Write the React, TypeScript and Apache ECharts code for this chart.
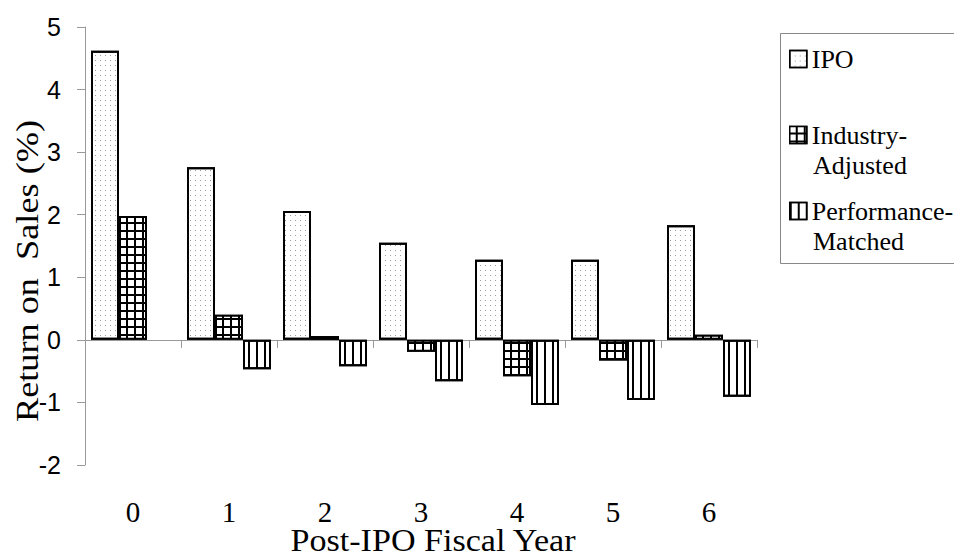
import React, { useEffect, useRef } from "react";
import * as echarts from "echarts";

const categories = ["0", "1", "2", "3", "4", "5", "6"];
const seriesNames = ["IPO", "Industry-Adjusted", "Performance-Matched"];
const ipoValues = [4.62, 2.76, 2.06, 1.55, 1.28, 1.28, 1.83];
const industryAdjustedValues = [1.98, 0.4, 0.06, -0.19, -0.58, -0.33, 0.08];
const performanceMatchedValues = [null, -0.47, -0.42, -0.66, -1.04, -0.96, -0.91];
const legendFirstLines = ["IPO", "Industry-", "Performance-"];
const legendSecondLines = ["", "Adjusted", "Matched"];
const yMin = -2;
const yMax = 5;
const yInterval = 1;
const xAxisName = "Post-IPO Fiscal Year";
const yAxisName = "Return on  Sales (%)";

const SERIF = "Liberation Serif";
const SANS = "Liberation Sans";

const dotDecal = {
  symbol: "rect",
  symbolSize: 1,
  color: "#9a9a9a",
  dashArrayX: [1, 4],
  dashArrayY: [1, 4],
  rotation: 0,
};
const gridDecal = {
  symbol: "rect",
  symbolSize: 1,
  color: "#fff",
  dashArrayX: [5.5, 1.5],
  dashArrayY: [5.5, 1.5],
  rotation: 0,
};
const stripeDecal = {
  symbol: "rect",
  symbolSize: 1,
  color: "#000",
  dashArrayX: [1.5, 6],
  dashArrayY: [1, 0],
  rotation: 0,
};

export default function App() {
  const ref = useRef<HTMLDivElement>(null);
  useEffect(() => {
    if (!ref.current) return;
    const chart = echarts.init(ref.current, null, { renderer: "svg" });
    const values = [ipoValues, industryAdjustedValues, performanceMatchedValues];
    const decals = [dotDecal, gridDecal, stripeDecal];
    const fills = ["#fff", "#000", "#fff"];
    const option: any = {
      animation: false,
      backgroundColor: "#fff",
      grid: { left: 85, right: 197, top: 27, bottom: 93, containLabel: false },
      legend: {
        orient: "vertical",
        left: 789,
        top: 46,
        padding: 0,
        itemWidth: 17,
        itemHeight: 17,
        itemGap: 50,
        icon: "rect",
        data: seriesNames,
        formatter: (name: string) => legendFirstLines[seriesNames.indexOf(name)],
        textStyle: { fontFamily: SERIF, fontSize: 26, color: "#000" },
        itemStyle: { borderWidth: 1.5, borderColor: "#000" },
      },
      xAxis: [
        {
          type: "category",
          data: categories,
          position: "bottom",
          axisLine: { show: true, onZero: true, lineStyle: { color: "#999", width: 1 } },
          axisTick: { show: true, length: 8, lineStyle: { color: "#999", width: 1 } },
          axisLabel: { show: false },
          splitLine: { show: false },
        },
        {
          type: "category",
          data: categories,
          position: "bottom",
          axisLine: { show: false, onZero: false },
          axisTick: { show: false },
          axisLabel: { show: true, fontFamily: SERIF, fontSize: 29, color: "#000", margin: 32 },
          splitLine: { show: false },
        },
      ],
      yAxis: {
        type: "value",
        min: yMin,
        max: yMax,
        interval: yInterval,
        axisLine: { show: true, lineStyle: { color: "#999", width: 1 } },
        axisTick: { show: true, length: 8, lineStyle: { color: "#999", width: 1 } },
        splitLine: { show: false },
        axisLabel: { fontFamily: SANS, fontSize: 25, color: "#000", margin: 24 },
      },
      series: seriesNames.map((name, i) => ({
        name,
        type: "bar",
        xAxisIndex: 0,
        data: values[i],
        barWidth: 28,
        barGap: "0%",
        itemStyle: {
          color: fills[i],
          borderColor: "#000",
          borderWidth: 2,
          decal: decals[i],
        },
      })),
      graphic: [
        {
          type: "rect",
          shape: { x: 780.5, y: 33.5, width: 220, height: 230 },
          style: { fill: "none", stroke: "#888", lineWidth: 1 },
          silent: true,
        },
        ...legendSecondLines
          .map((t, i) => ({ t, i }))
          .filter((o) => o.t)
          .map((o) => ({
            type: "text",
            x: 813,
            y: o.i === 1 ? 165 : 241,
            style: {
              text: o.t,
              fontFamily: SERIF,
              fontSize: 26,
              fill: "#000",
              align: "left",
              verticalAlign: "middle",
            },
          })),
        {
          type: "text",
          x: 433,
          y: 541,
          scaleX: 1.1,
          style: {
            text: xAxisName,
            fontFamily: SERIF,
            fontSize: 31,
            fill: "#000",
            align: "center",
            verticalAlign: "middle",
          },
        },
        {
          type: "text",
          x: 27,
          y: 271,
          rotation: Math.PI / 2,
          scaleX: 1.17,
          style: {
            text: yAxisName,
            fontFamily: SERIF,
            fontSize: 31,
            fill: "#000",
            align: "center",
            verticalAlign: "middle",
          },
        },
      ],
    };
    chart.setOption(option);
    return () => chart.dispose();
  }, []);
  return (
    <div
      ref={ref}
      style={{ position: "absolute", left: 0, top: 0, width: 954, height: 558, background: "#fff" }}
    />
  );
}
